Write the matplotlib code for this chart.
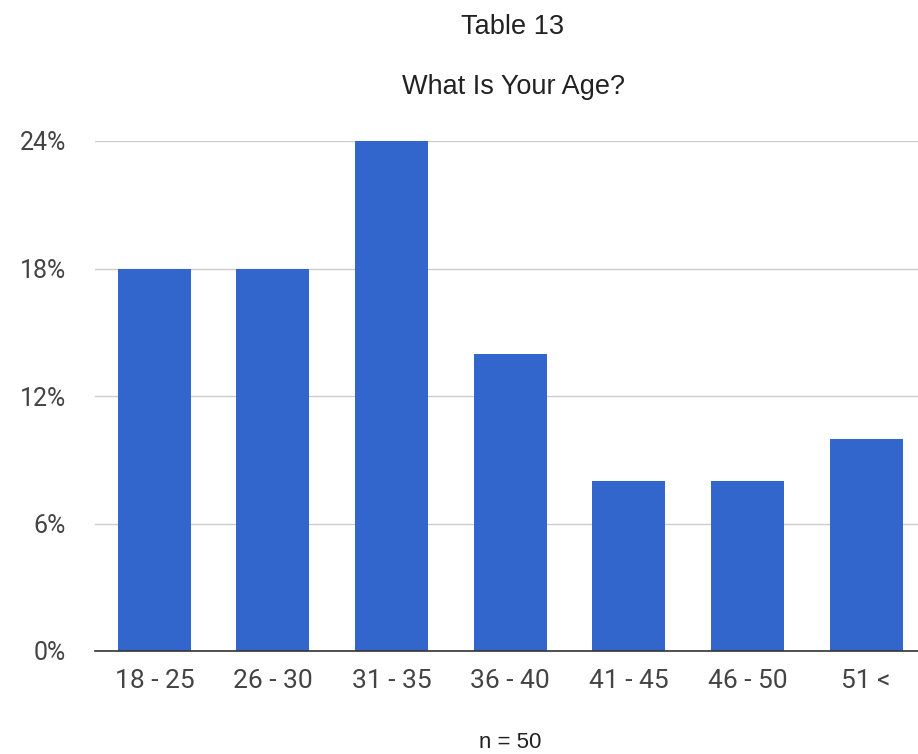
import matplotlib
matplotlib.use("Agg")
import matplotlib.pyplot as plt
from matplotlib.ticker import FuncFormatter

categories = ["18 - 25", "26 - 30", "31 - 35", "36 - 40", "41 - 45", "46 - 50", "51 <"]
percentages = [18, 18, 24, 14, 8, 8, 10]
y_ticks = [0, 6, 12, 18, 24]
title = "Table 13"
subtitle = "What Is Your Age?"
footer = "n = 50"

W, H = 918, 754
fig = plt.figure(figsize=(W / 100, H / 100), dpi=100)
ax = fig.add_axes([95 / W, 1 - 651 / H, (W - 95) / W, (651 - 141) / H])

x = list(range(len(categories)))
ax.bar(x, percentages, width=0.616, color="#3366CC", zorder=3)

ax.set_xlim(-0.5, 6.437)
ax.set_ylim(0, 24)
ax.set_yticks(y_ticks)
ax.yaxis.set_major_formatter(FuncFormatter(lambda v, _: f"{v:.0f}%"))
ax.set_xticks(x)
ax.set_xticklabels(categories)

for s in ["top", "right", "left"]:
    ax.spines[s].set_visible(False)
ax.spines["bottom"].set_color("#333333")
ax.spines["bottom"].set_linewidth(1.2)
ax.spines["bottom"].set_zorder(4)

ax.grid(axis="y", color="#cccccc", linewidth=1, zorder=0)
ax.tick_params(axis="both", length=0, labelcolor="#444444")
ax.tick_params(axis="x", pad=13, labelsize=19)
ax.tick_params(axis="y", pad=21, labelsize=18)
for lbl in ax.get_xticklabels() + ax.get_yticklabels():
    lbl.set_family(["Roboto", "DejaVu Sans"])

fig.text(513 / W, 1 - 27 / H, title, ha="center", va="center",
         fontsize=19.5, family="Liberation Sans", color="#222222")
fig.text(513 / W, 1 - 87 / H, subtitle, ha="center", va="center",
         fontsize=19.5, family="Liberation Sans", color="#222222")
fig.text(510 / W, 1 - 742 / H, footer, ha="center", va="center",
         fontsize=16, family="Liberation Sans", color="#222222")

fig.savefig("out.png", dpi=100, facecolor="white")
